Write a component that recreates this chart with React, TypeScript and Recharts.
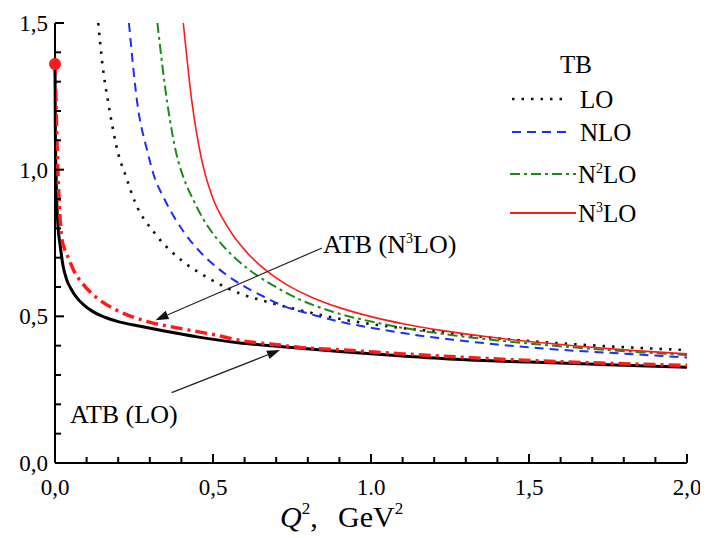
import React from 'react';
import { ComposedChart, Line, XAxis, YAxis, ReferenceLine } from 'recharts';

// ---- data (Q^2 in GeV^2, alpha values) ----
const tbLO = [
  { q: 0.137, a: 1.5 }, { q: 0.15, a: 1.36 }, { q: 0.169, a: 1.226 }, { q: 0.2, a: 1.055 },
  { q: 0.225, a: 0.975 }, { q: 0.253, a: 0.89 }, { q: 0.316, a: 0.783 }, { q: 0.406, a: 0.686 },
  { q: 0.475, a: 0.637 }, { q: 0.585, a: 0.578 }, { q: 0.67, a: 0.55 }, { q: 0.775, a: 0.521 },
  { q: 0.944, a: 0.483 }, { q: 1.1, a: 0.46 }, { q: 1.218, a: 0.447 }, { q: 1.4, a: 0.425 },
  { q: 1.6, a: 0.408 }, { q: 1.8, a: 0.395 }, { q: 2.0, a: 0.385 },
];
const tbNLO = [
  { q: 0.234, a: 1.5 }, { q: 0.26, a: 1.23 }, { q: 0.293, a: 1.06 }, { q: 0.313, a: 0.98 },
  { q: 0.343, a: 0.907 }, { q: 0.406, a: 0.79 }, { q: 0.459, a: 0.72 }, { q: 0.52, a: 0.66 },
  { q: 0.564, a: 0.625 }, { q: 0.607, a: 0.597 }, { q: 0.67, a: 0.562 }, { q: 0.712, a: 0.54 },
  { q: 0.807, a: 0.508 }, { q: 0.9, a: 0.482 }, { q: 1.028, a: 0.456 }, { q: 1.15, a: 0.435 },
  { q: 1.271, a: 0.419 }, { q: 1.4, a: 0.404 }, { q: 1.535, a: 0.391 }, { q: 1.75, a: 0.376 },
  { q: 2.0, a: 0.36 },
];
const tbN2LO = [
  { q: 0.324, a: 1.5 }, { q: 0.355, a: 1.23 }, { q: 0.385, a: 1.05 }, { q: 0.406, a: 0.975 },
  { q: 0.438, a: 0.896 }, { q: 0.47, a: 0.83 }, { q: 0.512, a: 0.765 }, { q: 0.564, a: 0.705 },
  { q: 0.607, a: 0.665 }, { q: 0.67, a: 0.618 }, { q: 0.712, a: 0.592 }, { q: 0.775, a: 0.557 },
  { q: 0.881, a: 0.515 }, { q: 1.028, a: 0.476 }, { q: 1.15, a: 0.452 }, { q: 1.271, a: 0.434 },
  { q: 1.4, a: 0.418 }, { q: 1.535, a: 0.404 }, { q: 1.75, a: 0.385 }, { q: 2.0, a: 0.368 },
];
const tbN3LO = [
  { q: 0.406, a: 1.5 }, { q: 0.434, a: 1.225 }, { q: 0.462, a: 1.045 }, { q: 0.477, a: 0.978 },
  { q: 0.497, a: 0.91 }, { q: 0.549, a: 0.8 }, { q: 0.607, a: 0.718 }, { q: 0.67, a: 0.655 },
  { q: 0.741, a: 0.603 }, { q: 0.819, a: 0.562 }, { q: 0.905, a: 0.528 }, { q: 1.0, a: 0.499 },
  { q: 1.105, a: 0.474 }, { q: 1.221, a: 0.452 }, { q: 1.35, a: 0.433 }, { q: 1.492, a: 0.415 },
  { q: 1.649, a: 0.399 }, { q: 1.822, a: 0.384 }, { q: 2.0, a: 0.372 },
];
const atbLO = [
  { q: 0, a: 1.38 }, { q: 0.001, a: 1.15 }, { q: 0.003, a: 1.0 }, { q: 0.006, a: 0.88 },
  { q: 0.01, a: 0.8 }, { q: 0.016, a: 0.745 }, { q: 0.025, a: 0.675 }, { q: 0.037, a: 0.625 },
  { q: 0.05, a: 0.595 }, { q: 0.07, a: 0.562 }, { q: 0.09, a: 0.54 }, { q: 0.12, a: 0.516 },
  { q: 0.16, a: 0.496 }, { q: 0.2, a: 0.482 }, { q: 0.27, a: 0.466 }, { q: 0.35, a: 0.449 },
  { q: 0.45, a: 0.43 }, { q: 0.58, a: 0.41 }, { q: 0.72, a: 0.396 }, { q: 0.9, a: 0.38 },
  { q: 1.1, a: 0.365 }, { q: 1.3, a: 0.352 }, { q: 1.5, a: 0.344 }, { q: 1.75, a: 0.335 },
  { q: 2.0, a: 0.326 },
];
const atbN3LO = [
  { q: 0, a: 1.36 }, { q: 0.003, a: 1.24 }, { q: 0.006, a: 1.1 }, { q: 0.01, a: 0.97 },
  { q: 0.015, a: 0.85 }, { q: 0.021, a: 0.77 }, { q: 0.03, a: 0.73 }, { q: 0.042, a: 0.7 },
  { q: 0.06, a: 0.655 }, { q: 0.09, a: 0.608 }, { q: 0.13, a: 0.565 }, { q: 0.195, a: 0.521 },
  { q: 0.29, a: 0.483 }, { q: 0.4, a: 0.458 }, { q: 0.5, a: 0.438 }, { q: 0.585, a: 0.418 },
  { q: 0.712, a: 0.402 }, { q: 0.775, a: 0.394 }, { q: 0.9, a: 0.386 }, { q: 1.1, a: 0.372 },
  { q: 1.3, a: 0.36 }, { q: 1.535, a: 0.348 }, { q: 1.75, a: 0.34 }, { q: 2.0, a: 0.333 },
];
const atbPoint = [{ q: 0, a: 1.36 }];

// ---- ticks ----
const xTicks = [0, 0.1, 0.2, 0.3, 0.4, 0.5, 0.6, 0.7, 0.8, 0.9, 1.0, 1.1, 1.2, 1.3, 1.4, 1.5, 1.6, 1.7, 1.8, 1.9, 2.0];
const yTicks = [0, 0.1, 0.2, 0.3, 0.4, 0.5, 0.6, 0.7, 0.8, 0.9, 1.0, 1.1, 1.2, 1.3, 1.4, 1.5];
const xMajor = [0, 0.5, 1.0, 1.5, 2.0];
const xMajorLabels = ['0,0', '0,5', '1.0', '1,5', '2,0'];
const yMajor = [0, 0.5, 1.0, 1.5];
const yMajorLabels = ['0,0', '0,5', '1,0', '1,5'];

// annotation arrows (data coords)
const arrowN3LO = [{ x: 0.845, y: 0.733 }, { x: 0.318, y: 0.487 }];
const arrowLO = [{ x: 0.369, y: 0.24 }, { x: 0.712, y: 0.385 }];

const SERIF = 'Liberation Serif';
const TICK_FONT = 23;

const majorIndex = (list: number[], v: number) => list.findIndex((m) => Math.abs(m - v) < 1e-6);

const T = (p: any) => (
  <text {...p} fontFamily={SERIF} style={{ fontFamily: SERIF }} fill="#000" />
);

const BottomTick = (props: any) => {
  const { x, y, payload } = props;
  const i = majorIndex(xMajor, payload.value);
  const len = i >= 0 ? 9 : 6;
  return (
    <g>
      <line x1={x} y1={y} x2={x} y2={y - len} stroke="#000" strokeWidth={2} />
      {i >= 0 && (
        <T x={x} y={y + 32} textAnchor="middle" fontSize={TICK_FONT}>
          {xMajorLabels[i]}
        </T>
      )}
    </g>
  );
};
const TopTick = (props: any) => {
  const { x, y, payload } = props;
  const i = majorIndex(xMajor, payload.value);
  const len = i >= 0 ? 9 : 6;
  return <line x1={x} y1={y} x2={x} y2={y + len} stroke="#000" strokeWidth={2} />;
};
const LeftTick = (props: any) => {
  const { x, y, payload } = props;
  const i = majorIndex(yMajor, payload.value);
  const len = i >= 0 ? 9 : 6;
  return (
    <g>
      <line x1={x} y1={y} x2={x + len} y2={y} stroke="#000" strokeWidth={2} />
      {i >= 0 && (
        <T x={x - 7} y={y + 8} textAnchor="end" fontSize={TICK_FONT}>
          {yMajorLabels[i]}
        </T>
      )}
    </g>
  );
};
const RightTick = (props: any) => {
  const { x, y, payload } = props;
  const i = majorIndex(yMajor, payload.value);
  const len = i >= 0 ? 9 : 6;
  return <line x1={x} y1={y} x2={x - len} y2={y} stroke="#000" strokeWidth={2} />;
};

const Arrow = (props: any) => {
  const { x1, y1, x2, y2 } = props;
  const ang = Math.atan2(y2 - y1, x2 - x1);
  const L = 13;
  const W = 4.5;
  const bx = x2 - L * Math.cos(ang);
  const by = y2 - L * Math.sin(ang);
  const px = -Math.sin(ang) * W;
  const py = Math.cos(ang) * W;
  return (
    <g>
      <line x1={x1} y1={y1} x2={bx} y2={by} stroke="#222" strokeWidth={1.2} />
      <polygon points={`${x2},${y2} ${bx + px},${by + py} ${bx - px},${by - py}`} fill="#111" />
    </g>
  );
};

const BLUE = '#1e2dff';
const GREEN = '#1b8a1b';
const RED = '#ff1a1a';

export default function App() {
  return (
    <div style={{ position: 'relative', width: 700, height: 530, fontFamily: SERIF }}>
      <ComposedChart width={700} height={530} margin={{ top: 15, right: 21, bottom: 0, left: 0 }}>
        <XAxis
          xAxisId="b"
          dataKey="q"
          type="number"
          domain={[0, 2]}
          ticks={xTicks}
          interval={0}
          height={75}
          tickSize={0}
          tickMargin={0}
          tickLine={false}
          tick={<BottomTick />}
          axisLine={{ stroke: '#000', strokeWidth: 2 }}
        />
        <XAxis
          xAxisId="t"
          orientation="top"
          dataKey="q"
          type="number"
          domain={[0, 2]}
          ticks={xTicks}
          interval={0}
          height={0}
          tickSize={0}
          tickMargin={0}
          tickLine={false}
          tick={<TopTick />}
          axisLine={{ stroke: '#000', strokeWidth: 2 }}
        />
        <YAxis
          yAxisId="l"
          type="number"
          domain={[0, 1.5]}
          ticks={yTicks}
          interval={0}
          width={47}
          tickSize={0}
          tickMargin={0}
          tickLine={false}
          tick={<LeftTick />}
          axisLine={{ stroke: '#000', strokeWidth: 2 }}
        />
        <YAxis
          yAxisId="r"
          orientation="right"
          type="number"
          domain={[0, 1.5]}
          ticks={yTicks}
          interval={0}
          width={0}
          tickSize={0}
          tickMargin={0}
          tickLine={false}
          tick={<RightTick />}
          axisLine={{ stroke: '#000', strokeWidth: 2 }}
        />

        <Line xAxisId="b" yAxisId="l" data={tbLO} dataKey="a" type="monotone" stroke="#111" strokeWidth={2.6}
          strokeDasharray="2.5 7" dot={false} activeDot={false} isAnimationActive={false} />
        <Line xAxisId="b" yAxisId="l" data={tbNLO} dataKey="a" type="monotone" stroke={BLUE} strokeWidth={2}
          strokeDasharray="9 6" dot={false} activeDot={false} isAnimationActive={false} />
        <Line xAxisId="b" yAxisId="l" data={tbN2LO} dataKey="a" type="monotone" stroke={GREEN} strokeWidth={2}
          strokeDasharray="10 4 3 4" dot={false} activeDot={false} isAnimationActive={false} />
        <Line xAxisId="b" yAxisId="l" data={tbN3LO} dataKey="a" type="monotone" stroke={RED} strokeWidth={1.6}
          dot={false} activeDot={false} isAnimationActive={false} />
        <Line xAxisId="b" yAxisId="l" data={atbLO} dataKey="a" type="monotone" stroke="#000" strokeWidth={3}
          dot={false} activeDot={false} isAnimationActive={false} />
        <Line xAxisId="b" yAxisId="l" data={atbN3LO} dataKey="a" type="monotone" stroke={RED} strokeWidth={3.5}
          strokeDasharray="12 5 3 5" dot={false} activeDot={false} isAnimationActive={false} />
        <Line xAxisId="b" yAxisId="l" data={atbPoint} dataKey="a" stroke="none"
          dot={{ r: 6, fill: RED, stroke: RED, strokeWidth: 0 }} activeDot={false} isAnimationActive={false} />

        <ReferenceLine xAxisId="b" yAxisId="l" segment={arrowN3LO} shape={<Arrow />} ifOverflow="visible" />
        <ReferenceLine xAxisId="b" yAxisId="l" segment={arrowLO} shape={<Arrow />} ifOverflow="visible" />
      </ComposedChart>

      <svg width={700} height={530} style={{ position: 'absolute', left: 0, top: 0, pointerEvents: 'none' }}>
        {/* legend */}
        <T x={552} y={65} fontSize={25}>TB</T>
        <line x1={504} y1={91} x2={558} y2={91} stroke="#111" strokeWidth={2.6} strokeDasharray="2.5 7" />
        <T x={572} y={100} fontSize={25}>LO</T>
        <line x1={504} y1={124} x2={558} y2={124} stroke={BLUE} strokeWidth={2} strokeDasharray="9 6" />
        <T x={572} y={133} fontSize={25}>NLO</T>
        <line x1={502} y1={166} x2={568} y2={166} stroke={GREEN} strokeWidth={2} strokeDasharray="10 4 3 4" />
        <T x={570} y={175} fontSize={25}>
          N<tspan fontSize={14} dy={-10}>2</tspan><tspan dy={10}>LO</tspan>
        </T>
        <line x1={502} y1={205} x2={568} y2={205} stroke={RED} strokeWidth={2} />
        <T x={570} y={214} fontSize={25}>
          N<tspan fontSize={14} dy={-10}>3</tspan><tspan dy={10}>LO</tspan>
        </T>

        {/* annotations */}
        <T x={315} y={245} fontSize={26}>
          ATB (N<tspan fontSize={14} dy={-10}>3</tspan><tspan dy={10}>LO)</tspan>
        </T>
        <T x={62} y={415} fontSize={26}>ATB (LO)</T>

        {/* axis title */}
        <T x={272} y={519} fontSize={30}>
          <tspan fontStyle="italic">Q</tspan>
          <tspan fontSize={17} dy={-13}>2</tspan>
          <tspan dy={13}>,</tspan>
          <tspan x={330}>GeV</tspan>
          <tspan fontSize={17} dy={-13}>2</tspan>
        </T>
      </svg>
    </div>
  );
}
